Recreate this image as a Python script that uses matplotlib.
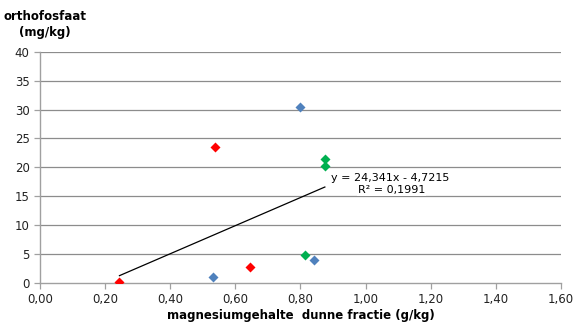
import matplotlib
matplotlib.use("Agg")
import matplotlib.pyplot as plt
import numpy as np

# magnesium content (g/kg) vs orthophosphate (mg/kg), three groups
blue_x = [0.80, 0.532, 0.842]
blue_y = [30.4, 1.0, 3.95]
red_x = [0.537, 0.244, 0.645]
red_y = [23.5, 0.17, 2.65]
green_x = [0.875, 0.875, 0.814]
green_y = [21.5, 20.2, 4.85]

slope = 24.341
intercept = -4.7215
r2 = 0.1991

xticks = np.arange(0, 1.61, 0.2)
yticks = np.arange(0, 41, 5)

plt.rcParams['font.family'] = ['DejaVu Sans']

fig = plt.figure(figsize=(5.8, 3.24), dpi=100)
ax = fig.add_axes([0.069, 0.1275, 0.898, 0.7125])

ax.set_xlim(0, 1.6)
ax.set_ylim(0, 40)

for yt in yticks[1:]:
    ax.axhline(yt, color='#8c8c8c', lw=0.9, zorder=0)

ms = 5
ax.plot(blue_x, blue_y, 'D', color='#4F81BD', ms=ms, mec='none', zorder=3)
ax.plot(red_x, red_y, 'D', color='#FF0000', ms=ms, mec='none', zorder=3)
ax.plot(green_x, green_y, 'D', color='#00B050', ms=ms, mec='none', zorder=3)

# linear trendline over the range of all x values
all_x = blue_x + red_x + green_x
tx = np.array([min(all_x), max(all_x)])
ax.plot(tx, slope * tx + intercept, color='black', lw=0.9, zorder=2)

eq = f"y = {slope:.3f}x - {abs(intercept):.4f}".replace('.', ',')
ax.text(0.893, 18.1, eq, fontsize=8, ha='left', va='center', zorder=4,
        bbox=dict(facecolor='white', edgecolor='none', pad=0.5))
ax.text(0.976, 16.0, f"R² = {r2:.4f}".replace('.', ','), fontsize=8,
        ha='left', va='center', zorder=4,
        bbox=dict(facecolor='white', edgecolor='none', pad=0.5))

ax.set_xticks(xticks)
ax.set_xticklabels([f"{v:.2f}".replace('.', ',') for v in xticks])
ax.set_yticks(yticks)
ax.set_yticklabels([str(int(v)) for v in yticks])
ax.tick_params(axis='both', labelsize=8.5, color='#a0a0a0', length=4,
               width=0.9, labelcolor='#222222')

for side in ['top', 'right']:
    ax.spines[side].set_visible(False)
for side in ['left', 'bottom']:
    ax.spines[side].set_color('#a0a0a0')
    ax.spines[side].set_linewidth(1.0)

ax.set_xlabel("magnesiumgehalte  dunne fractie (g/kg)", fontsize=8.5,
              fontweight='bold', labelpad=2)
fig.text(0.078, 0.925, "orthofosfaat\n(mg/kg)", fontsize=8.5,
         fontweight='bold', ha='center', va='center', linespacing=1.3)

fig.savefig("out.png", dpi=100)
